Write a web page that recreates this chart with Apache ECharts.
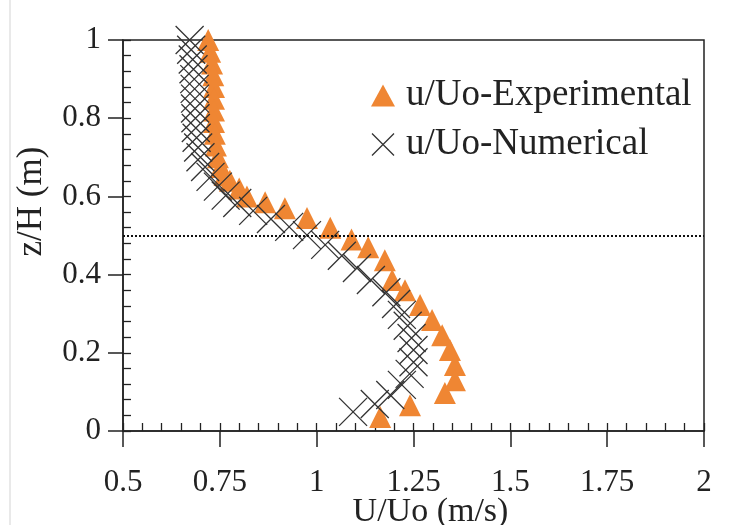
<!DOCTYPE html>
<html><head><meta charset="utf-8">
<script src="https://cdn.jsdelivr.net/npm/echarts@6/dist/echarts.min.js"></script>
<style>html,body{margin:0;padding:0;background:#fff}#c{width:741px;height:525px}</style>
</head><body><div id="c"></div>
<script>
// Experimental (triangles): U/Uo and z/H
const expU = [0.720,0.725,0.730,0.733,0.735,0.735,0.735,0.735,0.737,0.740,0.745,0.752,0.762,0.776,0.800,0.820,0.867,0.918,0.975,1.035,1.090,1.133,1.176,1.195,1.228,1.267,1.298,1.324,1.344,1.357,1.357,1.331,1.241,1.164];
const expZ = [1.000,0.970,0.940,0.910,0.880,0.850,0.820,0.790,0.760,0.730,0.700,0.675,0.655,0.640,0.620,0.600,0.585,0.570,0.545,0.520,0.490,0.470,0.437,0.386,0.360,0.322,0.284,0.245,0.207,0.169,0.130,0.097,0.066,0.036];
// Numerical (crosses)
const numU = [0.672,0.676,0.680,0.682,0.684,0.685,0.686,0.686,0.687,0.688,0.690,0.694,0.700,0.712,0.726,0.745,0.765,0.795,0.836,0.882,0.929,0.975,1.022,1.065,1.104,1.140,1.180,1.205,1.220,1.235,1.245,1.250,1.250,1.240,1.220,1.190,1.150,1.094];
const numZ = [1.000,0.975,0.950,0.925,0.900,0.875,0.850,0.825,0.800,0.775,0.750,0.725,0.700,0.675,0.650,0.625,0.602,0.583,0.563,0.542,0.522,0.501,0.476,0.448,0.417,0.386,0.355,0.325,0.297,0.269,0.238,0.207,0.176,0.146,0.118,0.092,0.069,0.049];
const xTicks = ['0.5','0.75','1','1.25','1.5','1.75','2'];
const yTicks = ['0','0.2','0.4','0.6','0.8','1'];
const refLineZ = 0.5;

const FONT = '"Liberation Serif","Times New Roman",serif';
const crossPath = 'path://M0,0L10,10M10,0L0,10';
const chart = echarts.init(document.getElementById('c'), null, {renderer:'canvas'});
chart.setOption({
  animation:false,
  backgroundColor:'#fff',
  grid:{left:123,right:37,top:40,bottom:94,outerBoundsMode:'none',containLabel:false,show:true,borderColor:'#222',borderWidth:1.5,backgroundColor:'transparent'},
  legend:{
    left:366, top:72, orient:'vertical', itemGap:12, itemWidth:24, itemHeight:22,
    textStyle:{fontFamily:FONT,fontSize:37,color:'#222',padding:[0,0,0,6]},
    data:[
      {name:'u/Uo-Experimental', icon:'triangle', itemStyle:{color:'#ef8633',borderWidth:0}},
      {name:'u/Uo-Numerical', icon:crossPath, itemStyle:{color:'transparent',borderColor:'#333',borderWidth:1.3}}
    ]
  },
  xAxis:[{
    type:'value', min:0.5, max:2, interval:0.25, position:'bottom',
    name:'U/Uo (m/s)', nameLocation:'middle', nameGap:64, nameMoveOverlap:false,
    nameTextStyle:{fontFamily:FONT,fontSize:34,color:'#222',padding:[0,0,0,34]},
    axisLine:{show:true,lineStyle:{color:'#222',width:1.5}},
    axisTick:{show:true,inside:false,length:16,lineStyle:{color:'#222',width:1.5}},
    axisLabel:{margin:36,fontFamily:FONT,fontSize:31,color:'#222',
      formatter:(v)=>xTicks[Math.round((v-0.5)/0.25)]},
    splitLine:{show:false}
  },{
    type:'value', min:0.5, max:2, interval:0.05, position:'bottom',
    axisLine:{show:false}, axisLabel:{show:false}, splitLine:{show:false},
    axisTick:{show:true,inside:true,length:8,lineStyle:{color:'#222',width:1.3}}
  }],
  yAxis:[{
    type:'value', min:0, max:1, interval:0.2, position:'left',
    name:'z/H (m)', nameLocation:'middle', nameGap:74, nameMoveOverlap:false,
    nameTextStyle:{fontFamily:FONT,fontSize:35,color:'#222',padding:[0,0,0,68]},
    axisLine:{show:true,lineStyle:{color:'#222',width:1.5}},
    axisTick:{show:true,inside:false,length:15,lineStyle:{color:'#222',width:1.5}},
    axisLabel:{margin:22,fontFamily:FONT,fontSize:31,color:'#222',
      formatter:(v)=>yTicks[Math.round(v/0.2)]},
    splitLine:{show:false}
  },{
    type:'value', min:0, max:1, interval:0.04, position:'left',
    axisLine:{show:false}, axisLabel:{show:false}, splitLine:{show:false},
    axisTick:{show:true,inside:true,length:8,lineStyle:{color:'#222',width:1.3}}
  }],
  series:[{
    name:'u/Uo-Experimental', type:'scatter', symbol:'triangle', symbolSize:[22,22],
    itemStyle:{color:'#ef8633',opacity:1},
    data:expU.map((u,i)=>[u,expZ[i]]),
    markLine:{silent:true,symbol:'none',label:{show:false},
      lineStyle:{color:'#111',type:[2,2],width:2},
      data:[{yAxis:refLineZ}]},
    z:2
  },{
    name:'u/Uo-Numerical', type:'scatter', symbol:crossPath, symbolSize:28,
    itemStyle:{color:'transparent',borderColor:'#333',borderWidth:1.3,opacity:1},
    data:numU.map((u,i)=>[u,numZ[i]]),
    z:3
  }],
  graphic:[{type:'line',shape:{x1:10,y1:0,x2:10,y2:525},style:{stroke:'#e2e2e2',lineWidth:1.5}}]
});
</script></body></html>
